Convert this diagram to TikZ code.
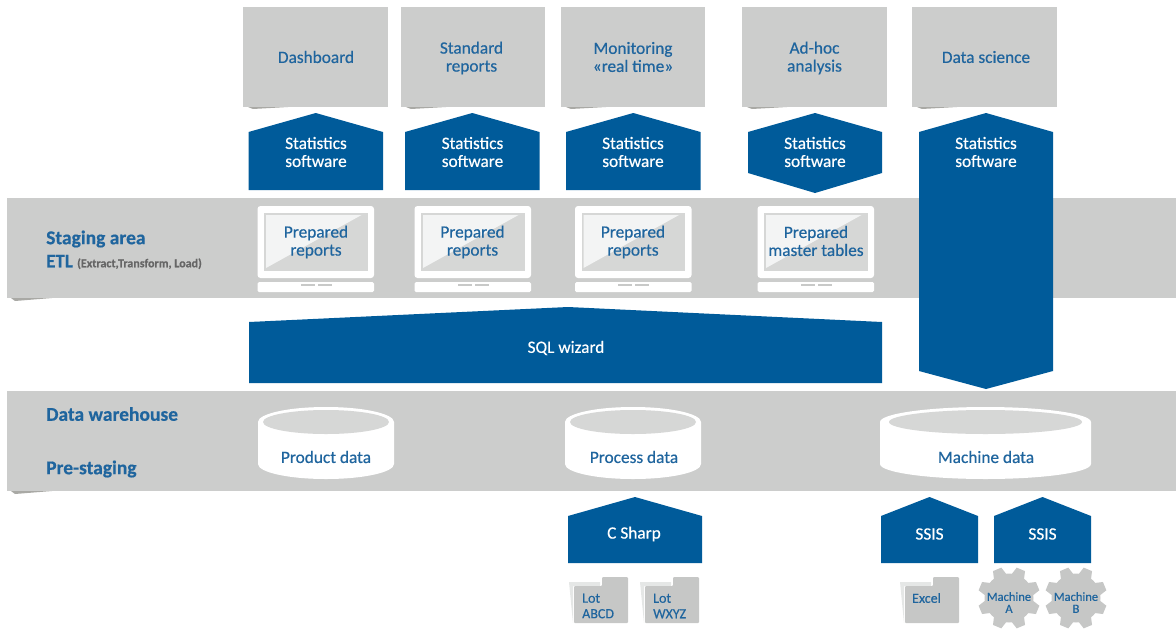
\documentclass[tikz,border=0pt]{standalone}
\usepackage{fontspec}
\setmainfont{Carlito}[FakeBold=0.45]
\definecolor{bandgray}{HTML}{CCCDCC}
\definecolor{lightgray2}{HTML}{D6D7D6}
\definecolor{dashgray}{HTML}{C8C9C8}
\definecolor{paleface}{HTML}{F3F4F4}
\definecolor{dkblue}{HTML}{005B9A}
\definecolor{txblue}{HTML}{1F659E}
\definecolor{foldergray}{HTML}{C6C7C6}
\definecolor{shadowgray}{HTML}{A9A9A5}
\newcommand{\szmain}{\fontsize{17.3}{18}\selectfont}
\newcommand{\szsmall}{\fontsize{14}{15.5}\selectfont}
\newcommand{\szlab}{\fontsize{19.5}{22}\selectfont}
\tikzset{
  x=1pt,y=-1pt,
  txt/.style={inner sep=0pt,align=center,text=txblue,font=\szmain},
  wtxt/.style={txt,text=white},
  sidelabel/.style={inner sep=0pt,anchor=west,text=txblue,font=\szlab\bfseries},
  smalltxt/.style={txt,font=\szsmall},
  geartxt/.style={txt,font=\fontsize{12.5}{12}\selectfont},
  bluefill/.style={fill=dkblue},
  grayfill/.style={fill=bandgray},
  whitefill/.style={fill=white},
  pics/housebox/.style args={#1/#2}{code={
    \fill[bluefill] (0,19) -- (#1/2,0) -- (#1,19) -- (#1,#2) -- (0,#2) -- cycle;
  }},
  pics/monitor/.style={code={
    \fill[whitefill,rounded corners=3] (0,0) rectangle (116.5,72);
    \fill[lightgray2] (6.5,7) rectangle (110,65);
    \fill[paleface] (8.5,9) -- (104,9) -- (8.5,62) -- cycle;
    \fill[whitefill,rounded corners=1.5] (0,76) rectangle (116.5,86);
    \fill[dashgray] (43,78) rectangle (57,80);
    \fill[dashgray] (60,78) rectangle (74,80);
  }},
  pics/cylinder/.style args={#1/#2}{code={
    \fill[whitefill] (0,15) arc[start angle=180,end angle=360,x radius=#1/2,y radius=15]
      -- (#1,57) arc[start angle=0,end angle=180,x radius=#1/2,y radius=15] -- cycle;
    \fill[lightgray2] (#1/2,15) ellipse[x radius=#1/2-#2,y radius=12];
  }},
  pics/folder/.style={code={
    \fill[paleface!70!foldergray] (0,5) -- (31,5) -- (31,9) -- (4,9) -- (4,46) -- cycle;
    \fill[foldergray,rounded corners=1] (5,46) -- (5,9) -- (33,9) -- (33,0) -- (59,0) -- (59,46) -- cycle;
  }},
  pics/gearwheel/.style={code={
    \fill[foldergray] (0,0) circle[radius=24.5];
    \foreach \a in {0,45,...,315}{
      \fill[foldergray,rotate=\a+22.5] (-7,-22) -- (-4.5,-31) -- (4.5,-31) -- (7,-22) -- cycle;
    }
  }},
}
\begin{document}
\begin{tikzpicture}
\useasboundingbox (0,0) rectangle (1176,630);
% bands with slivers of shadow
\fill[shadowgray] (11,298) -- (52,298) -- (15,301) -- cycle;
\fill[shadowgray] (11,491) -- (52,491) -- (15,494) -- cycle;
\fill[grayfill] (7,198) rectangle (1176,298);
\fill[grayfill] (7,391) rectangle (1176,491);
% top boxes
\foreach \xa/\xb in {243/388,401/545,561/705,742/887,912/1057}{
  \fill[shadowgray] (\xa+5,107) -- (\xa+45,107) -- (\xa+10,109) -- cycle;
  \fill[grayfill] (\xa,7) rectangle (\xb,107);
}
\node[txt] (dash) at (316,57) {Dashboard};
\node[txt] (std) at (471.5,58) {Standard\\reports};
\node[txt] (mon) at (633,57) {Monitoring\\«real time»};
\node[txt] (adhoc) at (814.5,58) {Ad-hoc\\analysis};
\node[txt] (ds) at (986,57) {Data science};
% statistics software
\pic at (248.5,113) {housebox=134.5/77};
\pic at (405,113) {housebox=134.5/77};
\pic at (566,113) {housebox=134.5/77};
\fill[bluefill] (748,132) -- (815,113) -- (882,132) -- (882,173) -- (815,193) -- (748,173) -- cycle;
\fill[bluefill] (919,132) -- (986,113) -- (1053,132) -- (1053,371) -- (986,389) -- (919,371) -- cycle;
\node[wtxt] (s1) at (316,152) {Statistics\\software};
\node[wtxt] (s2) at (472.5,152) {Statistics\\software};
\node[wtxt] (s3) at (633,152) {Statistics\\software};
\node[wtxt] (s4) at (815,152) {Statistics\\software};
\node[wtxt] (s5) at (986,152) {Statistics\\software};
% side labels
\node[sidelabel] (stag) at (46,239) {Staging area};
\node[sidelabel,font=\fontsize{19}{20}\selectfont\bfseries] (etl) at (46,262) {ETL \textcolor{black!60}{\fontsize{12}{13}\selectfont(Extract,Transform, Load)}};
\node[sidelabel] (dw) at (46,414) {Data warehouse};
\node[sidelabel] (pre) at (46,469) {Pre-staging};
% monitors
\pic at (257.5,206) {monitor};
\pic at (414.5,206) {monitor};
\pic at (575,206) {monitor};
\pic at (757.5,206) {monitor};
\node[txt] (p1) at (316,242) {Prepared\\reports};
\node[txt] (p2) at (472.5,242) {Prepared\\reports};
\node[txt] (p3) at (633,242) {Prepared\\reports};
\node[txt] (p4) at (816,241) {Prepared\\master tables};
% SQL wizard
\fill[bluefill] (249,322) -- (568,307) -- (882,322) -- (882,383) -- (249,383) -- cycle;
\node[wtxt] (sql) at (566,348) {SQL wizard};
% cylinders
\pic at (258,407) {cylinder=136/5};
\pic at (565,407) {cylinder=136/5};
\pic at (880,407) {cylinder=211/9};
\node[txt] (c1) at (326,457) {Product data};
\node[txt] (c2) at (634,457) {Process data};
\node[txt] (c3) at (986,457) {Machine data};
% lower blue boxes
\pic at (568,497) {housebox=134/66};
\pic at (881,497) {housebox=97/66};
\pic at (994,497) {housebox=97/66};
\node[wtxt] (cs) at (634,534) {C Sharp};
\node[wtxt] (ss1) at (929.5,534) {SSIS};
\node[wtxt] (ss2) at (1042.5,534) {SSIS};
% folders
\pic at (569,577) {folder};
\pic at (640,577) {folder};
\pic at (900,577) {folder};
\node[smalltxt,align=left,anchor=west] (f1) at (582,606) {Lot\\ABCD};
\node[smalltxt,align=left,anchor=west] (f2) at (653,606) {Lot\\WXYZ};
\node[smalltxt,anchor=west] (f3) at (912,598) {Excel};
% gears
\pic at (1009,598) {gearwheel};
\pic at (1076,598) {gearwheel};
\node[geartxt] (m1) at (1009,602.5) {Machine\\A};
\node[geartxt] (m2) at (1076,602.5) {Machine\\B};
\end{tikzpicture}
\end{document}
